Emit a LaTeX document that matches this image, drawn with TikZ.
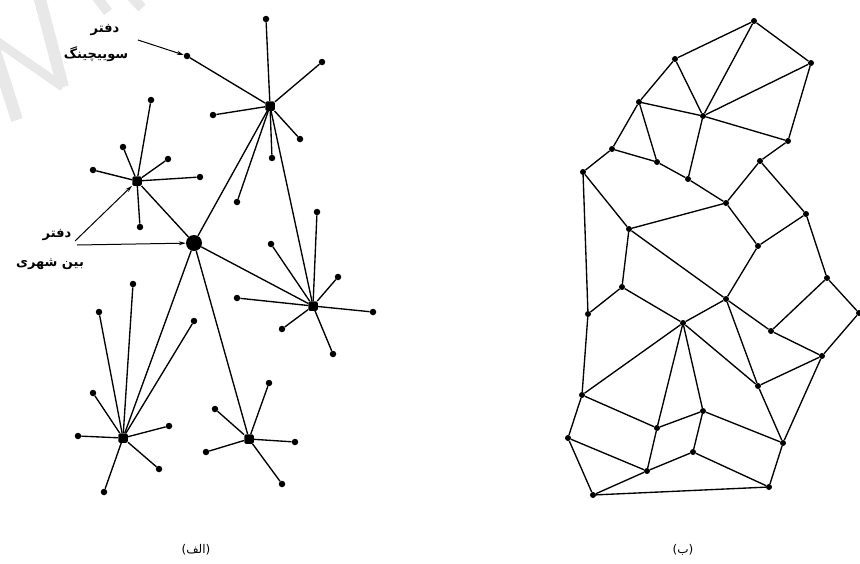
\documentclass[tikz,border=0pt]{standalone}
\usepackage{fontspec}
\usetikzlibrary{arrows.meta}
\TeXXeTstate=1
\newfontfamily\arabicfont[Script=Arabic]{DejaVu Sans}
\newfontfamily\parenfont{DejaVu Sans}
\begin{document}
\begin{tikzpicture}[x=1pt,y=-1pt,
  leaf/.style={circle,fill=black,inner sep=0pt,minimum size=6.5pt},
  sw/.style={rectangle,rounded corners=1.5pt,fill=black,inner sep=0pt,minimum size=9.5pt},
  hub/.style={circle,fill=black,inner sep=0pt,minimum size=16pt},
  pt/.style={circle,fill=black,inner sep=0pt,minimum size=6pt},
  conn/.style={line width=1.35pt,black},
  lab/.style={font=\arabicfont\bfseries\fontsize{13}{15}\selectfont,inner sep=0pt},
  captn/.style={font=\fontsize{12}{14}\selectfont,inner sep=0pt},
  arr/.style={line width=1pt,-{Stealth[length=7pt,width=4pt]}},
  wm/.style={line width=12pt,black!9}]
\useasboundingbox (0,0) rectangle (860,563);
% watermark
\draw[wm] (38,-8) -- (63,87);
\draw[wm,line width=9pt] (-5,40) -- (63,87);
\draw[wm] (-6,48) -- (17,120);
\draw[wm,line width=10pt] (93,-8) -- (108,12);
\draw[wm,line width=10pt] (127,-8) -- (142,8);
% ---------------- (a) ----------------
\node[hub] (H) at (194,243) {};
\node[sw] (S1) at (270,106) {};
\node[sw] (S2) at (137,181) {};
\node[sw] (S3) at (313,306) {};
\node[sw] (S4) at (123,438) {};
\node[sw] (S5) at (249,439) {};
% S1 leaves
\foreach \n/\p in {a/{(266,19)},b/{(322,62)},c/{(213,115)},d/{(300,139)},e/{(272,158)},f/{(237,202)},g/{(187,56)}}
  {\node[leaf] (L1\n) at \p {}; \draw[conn] (S1) -- (L1\n);}
% S2 leaves
\foreach \n/\p in {a/{(151,100)},b/{(123,147)},c/{(93,170)},d/{(168,159)},e/{(200,177)},f/{(140,227)}}
  {\node[leaf] (L2\n) at \p {}; \draw[conn] (S2) -- (L2\n);}
% S3 leaves
\foreach \n/\p in {a/{(338,277)},b/{(237,298)},c/{(373,312)},d/{(282,329)},e/{(333,354)},f/{(317,212)},g/{(271,244)}}
  {\node[leaf] (L3\n) at \p {}; \draw[conn] (S3) -- (L3\n);}
% S4 leaves
\foreach \n/\p in {a/{(133,284)},b/{(99,312)},c/{(194,321)},d/{(93,393)},e/{(78,436)},f/{(169,426)},g/{(159,469)},h/{(104,492)}}
  {\node[leaf] (L4\n) at \p {}; \draw[conn] (S4) -- (L4\n);}
% S5 leaves
\foreach \n/\p in {a/{(269,383)},b/{(215,409)},c/{(295,442)},d/{(206,452)},e/{(282,484)}}
  {\node[leaf] (L5\n) at \p {}; \draw[conn] (S5) -- (L5\n);}
% trunks
\draw[conn] (H) -- (S1);
\draw[conn] (H) -- (S2);
\draw[conn] (H) -- (S3);
\draw[conn] (H) -- (S4);
\draw[conn] (H) -- (S5);
\draw[conn] (S1) -- (S3);
% labels
\node[lab] (t1) at (105,30) {\beginR دفتر\endR};
\node[lab] (t2) at (96,54) {\beginR سوییچینگ\endR};
\coordinate (a1) at (138,40);
\draw[arr] (a1) -- (L1g);
\node[lab] (t3) at (57,235) {\beginR دفتر\endR};
\node[lab] (t4) at (50,264) {\beginR بین شهری\endR};
\coordinate (a2) at (75,241);
\coordinate (a3) at (77,245);
\draw[arr] (a2) -- (S2);
\draw[arr] (a3) -- (H);
\node[captn] (c1) at (196,550) {{\parenfont(}{\arabicfont\beginR الف\endR}{\parenfont)}};
% ---------------- (b) ----------------
\foreach \n/\p in {A/{(754,21)},B/{(811,63)},C/{(675,59)},D/{(639,102)},E/{(703,116)},
  F/{(788,141)},G/{(612,149)},H/{(657,162)},I/{(583,172)},J/{(688,179)},K/{(760,161)},
  L/{(726,203)},M/{(806,214)},N/{(629,229)},O/{(758,246)},P/{(827,278)},Q/{(622,287)},
  R/{(588,314)},S/{(726,299)},U/{(859,313)},V/{(683,323)},W/{(771,331)},X/{(822,356)},
  Y/{(758,386)},Z/{(582,395)},a/{(703,411)},b/{(657,428)},c/{(783,443)},d/{(568,438)},
  e/{(693,452)},f/{(647,471)},g/{(769,487)},h/{(593,495)}}
  {\node[pt] (b\n) at \p {};}
\foreach \u/\v in {C/A,A/B,A/E,C/E,B/E,B/F,D/C,D/E,E/F,D/H,G/D,G/H,H/J,J/L,E/J,G/I,
  I/N,I/R,N/L,N/Q,N/S,L/K,K/F,K/M,L/O,O/M,M/P,O/S,P/U,P/W,U/X,W/X,S/W,R/Q,Q/V,V/S,
  S/Y,V/Y,Y/X,X/c,Y/c,R/Z,Z/V,V/b,V/a,Z/b,b/a,a/c,a/e,b/f,Z/d,d/f,d/h,h/f,f/e,e/g,c/g,h/g}
  {\draw[conn] (b\u) -- (b\v);}
\node[captn] (c2) at (683,550) {{\parenfont(}{\arabicfont\beginR ب\endR}{\parenfont)}};
\end{tikzpicture}
\end{document}
